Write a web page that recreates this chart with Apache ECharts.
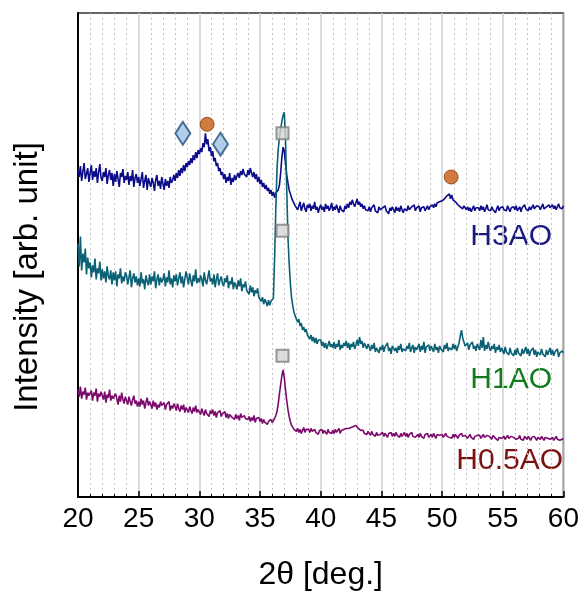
<!DOCTYPE html>
<html>
<head>
<meta charset="utf-8">
<script src="https://cdn.jsdelivr.net/npm/echarts@6/dist/echarts.min.js"></script>
<style>
  html, body { margin: 0; padding: 0; background: #fff; }
  #main { width: 582px; height: 596px; }
</style>
</head>
<body>
<div id="main"></div>
<script>
// 2theta sampling: 20.0 .. 60.0 every 0.1 deg
const thetaStart = 20;
const thetaStep = 0.1;

// intensities, arbitrary units (one row = one degree)
const h3ao = [
  330,322,333,318,327,336,320,325,331,317,
  326,334,319,328,322,331,316,327,335,321,
  318,327,322,331,315,324,329,319,326,313,
  325,317,328,320,312,326,322,330,316,323,
  319,327,314,323,318,329,312,321,325,316,
  322,313,320,327,311,318,324,309,321,316,
  312,321,316,308,319,324,313,318,310,322,
  315,309,320,313,318,311,322,316,319,324,
  318,326,321,329,323,331,326,334,328,336,
  332,338,334,341,336,344,339,347,341,349,
  345,351,347,356,352,366,355,360,348,352,
  343,348,338,341,333,336,328,331,324,327,
  320,325,316,322,318,326,314,321,317,324,
  319,323,326,321,328,324,330,325,327,322,
  329,324,331,326,322,327,320,325,317,322,
  315,319,312,316,310,314,308,311,305,309,
  303,307,301,306,304,309,314,326,342,352,
  348,336,324,316,309,305,301,298,296,293,
  295,289,293,297,288,292,296,290,287,294,
  291,295,288,293,290,297,289,292,286,291,
  294,289,292,287,295,290,293,288,291,296,
  288,292,289,294,290,286,293,289,291,287,
  293,290,295,291,297,294,299,295,292,296,
  300,294,297,292,295,290,293,289,291,288,
  292,287,291,289,294,288,290,286,292,289,
  287,291,289,293,288,290,285,291,288,292,
  289,286,292,288,291,287,293,289,286,290,
  291,288,293,289,287,292,290,294,288,291,
  289,293,287,291,289,292,288,290,293,289,
  292,290,294,291,295,292,296,294,297,295,
  298,296,300,298,303,301,305,300,304,299,
  301,297,299,294,296,292,294,290,293,291,
  289,292,288,291,287,290,293,288,291,289,
  291,288,293,289,292,287,290,294,289,291,
  288,292,289,291,286,290,293,288,291,289,
  292,289,291,288,293,290,287,291,289,292,
  289,293,288,290,292,287,291,289,294,290,
  290,288,292,289,291,294,290,288,293,291,
  292,289,291,295,290,288,292,290,294,291,
  291,294,290,293,289,292,295,291,293,290,
  293
];

const h1ao = [
  255,232,262,228,245,236,250,224,241,230,
  236,221,233,226,240,219,230,225,237,218,
  229,220,227,216,232,222,219,228,214,226,
  218,227,212,224,220,230,215,222,217,226,
  223,214,221,228,211,220,225,216,222,213,
  220,212,226,215,219,209,223,217,213,224,
  214,222,217,227,210,219,224,213,221,216,
  219,225,212,221,216,228,214,220,211,223,
  217,224,213,220,226,215,222,211,219,227,
  221,214,225,218,212,223,217,229,215,220,
  216,223,219,212,226,218,214,221,228,217,
  220,214,224,211,219,225,213,218,222,215,
  212,220,216,223,210,217,214,221,209,216,
  215,209,218,212,220,207,214,211,217,208,
  210,204,213,206,211,202,208,205,210,201,
  203,197,201,194,199,196,192,198,193,197,
  196,200,240,290,330,350,362,370,378,384,
  387,360,310,262,235,215,200,192,186,182,
  182,176,179,172,175,168,171,166,169,163,
  165,159,163,157,161,155,160,154,158,156,
  158,152,156,150,155,149,153,157,151,154,
  150,156,149,154,151,158,148,153,150,155,
  152,157,150,155,148,154,151,156,149,153,
  158,152,161,154,157,150,155,152,149,154,
  151,147,153,149,155,146,150,152,145,151,
  148,153,146,151,149,155,147,150,144,152,
  153,147,150,145,152,148,154,146,149,151,
  147,152,149,155,146,150,153,145,151,148,
  150,154,146,152,148,156,145,151,149,153,
  147,152,150,146,154,148,151,145,152,149,
  151,146,153,149,155,147,150,152,148,154,
  149,153,147,151,155,162,168,160,156,152,
  150,155,148,153,151,156,149,152,147,154,
  155,148,158,150,161,147,153,149,156,150,
  147,152,149,154,145,151,148,153,146,150,
  149,144,151,146,148,143,150,145,147,142,
  148,143,150,145,147,142,149,144,146,151,
  144,149,142,147,145,150,143,148,141,146,
  147,143,149,144,146,141,148,143,145,150,
  143,148,142,146,144,149,141,145,143,147,
  145
];

const h05ao = [
  108,101,111,99,106,103,110,98,105,102,
  100,107,97,105,102,109,96,104,101,106,
  104,98,106,95,103,100,108,97,102,99,
  97,104,99,93,102,96,105,98,94,101,
  99,93,101,96,92,98,102,94,97,91,
  96,91,99,93,97,89,95,100,92,96,
  94,89,97,91,95,88,93,90,96,92,
  90,95,88,93,91,96,87,92,89,94,
  91,87,94,89,86,92,88,93,85,90,
  89,85,91,87,84,90,86,92,85,88,
  87,83,89,85,82,88,84,86,81,87,
  84,88,82,86,80,85,83,87,81,84,
  82,86,80,84,79,83,85,80,82,78,
  83,79,82,77,84,80,78,82,79,81,
  78,81,76,80,77,82,75,79,77,80,
  76,79,74,78,75,77,73,76,74,78,
  75,77,79,82,86,94,104,113,122,128,
  120,108,97,88,81,76,72,70,68,69,
  66,69,65,68,64,67,70,65,68,66,
  68,65,69,66,64,68,65,67,63,67,
  65,68,64,67,66,63,68,65,67,64,
  67,64,68,65,66,69,64,67,65,68,
  66,69,67,69,68,70,69,71,70,72,
  71,69,68,67,65,67,64,66,63,66,
  65,62,66,63,64,61,65,62,64,63,
  62,65,61,64,63,60,64,62,65,61,
  64,61,65,62,63,60,64,61,63,65,
  61,64,60,63,62,65,61,63,60,62,
  63,60,64,61,62,59,63,61,64,60,
  61,63,60,64,62,59,63,61,62,60,
  63,60,62,64,61,63,60,62,59,63,
  60,63,61,59,62,60,64,61,59,62,
  62,59,61,63,60,62,58,61,60,62,
  60,62,59,61,63,60,58,62,60,61,
  61,58,62,60,59,61,57,60,62,59,
  59,61,58,60,62,59,57,61,59,60,
  61,58,60,59,62,58,60,57,61,59,
  58,61,59,57,60,58,61,59,57,60,
  60,58,61,59,57,60,58,59,61,58,
  58,60,57,59,61,58,60,57,59,58,
  59
];

// phase markers [2theta, intensity]
const circleMarks = [[30.64, 375], [50.75, 322]];
const diamondMarks = [[28.64, 366], [31.74, 355]];
const squareMarks = [[36.85, 366], [36.85, 268], [36.85, 142]];

const xTicks = { min: 20, max: 60, interval: 5 };

const toXY = arr => arr.map((v, i) => [+(thetaStart + i * thetaStep).toFixed(1), v]);

const font = "'Liberation Sans', Arial, sans-serif";

const chart = echarts.init(document.getElementById("main"));

const lineSeries = (name, data, color) => ({
  name,
  type: "line",
  data: toXY(data),
  showSymbol: false,
  symbol: "none",
  sampling: "none",
  lineStyle: { color, width: 1.6 },
  z: 2,
});

const option = {
  animation: false,
  grid: {
    left: 78,
    right: 17,
    top: 13,
    bottom: 96,
    show: true,
    borderColor: "#333",
    borderWidth: 1.5,
  },
  xAxis: {
    type: "value",
    min: xTicks.min,
    max: xTicks.max,
    interval: xTicks.interval,
    name: "2θ [deg.]",
    nameLocation: "middle",
    nameGap: 62,
    nameTextStyle: { fontSize: 32, color: "#000", fontFamily: font },
    axisLine: { show: true, lineStyle: { color: "#000", width: 2 } },
    axisTick: { show: true, inside: true, length: 6, lineStyle: { color: "#000", width: 1.5 } },
    minorTick: { show: true, splitNumber: 5, length: 3, lineStyle: { color: "#000", width: 1 } },
    axisLabel: { fontSize: 28, color: "#000", fontFamily: font, margin: 8 },
    splitLine: { show: true, lineStyle: { color: "#d0d0d0", width: 1.5 } },
    minorSplitLine: { show: true, lineStyle: { color: "#c4c4c4", width: 1, type: [2, 3] } },
  },
  yAxis: {
    type: "value",
    min: 0,
    max: 487,
    name: "Intensity [arb. unit]",
    nameLocation: "middle",
    nameGap: 34,
    nameTextStyle: { fontSize: 33, color: "#000", fontFamily: font, padding: [0, 44, 0, 0] },
    axisLine: { show: true, lineStyle: { color: "#000", width: 2 } },
    axisTick: { show: false },
    axisLabel: { show: false },
    splitLine: { show: false },
  },
  series: [
    lineSeries("H3AO", h3ao, "#0c0c8a"),
    lineSeries("H1AO", h1ao, "#0a6074"),
    lineSeries("H0.5AO", h05ao, "#7c0a6c"),
    {
      type: "scatter",
      data: circleMarks,
      symbol: "circle",
      symbolSize: 14,
      itemStyle: { color: "#c55a11", borderColor: "#8a3b08", borderWidth: 1 },
      z: 5,
    },
    {
      type: "scatter",
      data: diamondMarks,
      symbol: "diamond",
      symbolSize: [15, 23],
      itemStyle: { color: "#9dc3e6", borderColor: "#1f4e79", borderWidth: 2 },
      z: 5,
    },
    {
      type: "scatter",
      data: squareMarks,
      symbol: "rect",
      symbolSize: 12,
      itemStyle: { color: "#d4d4d4", borderColor: "#808080", borderWidth: 2 },
      z: 5,
    },
  ],
  graphic: [
    { type: "text", right: 30, top: 222, style: { text: "H3AO", fontSize: 30, fontFamily: font, fill: "#1a1a7e" } },
    { type: "text", right: 30, top: 365, style: { text: "H1AO", fontSize: 30, fontFamily: font, fill: "#137a1e" } },
    { type: "text", right: 19, top: 446, style: { text: "H0.5AO", fontSize: 30, fontFamily: font, fill: "#7a1212" } },
  ],
};

chart.setOption(option);
</script>
</body>
</html>
